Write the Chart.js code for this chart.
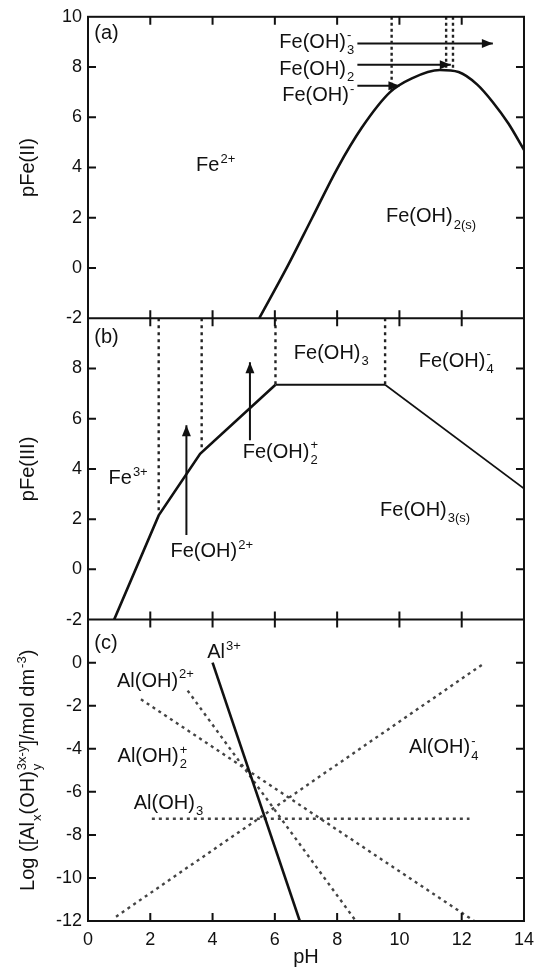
<!DOCTYPE html>
<html><head><meta charset="utf-8">
<script src="https://cdn.jsdelivr.net/npm/chart.js@4.4.1/dist/chart.umd.min.js"></script>
<style>html,body{margin:0;padding:0;background:#fff;}canvas{display:block;}</style>
</head><body>
<canvas id="c" width="542" height="969"></canvas>
<script>
// ---------------- data ----------------
const xTickValues = [0, 2, 4, 6, 8, 10, 12, 14];
const yTicksA = [-2, 0, 2, 4, 6, 8, 10];
const yTickLabelsA = ['-2', '0', '2', '4', '6', '8', '10'];
const yTicksB = [-2, 0, 2, 4, 6, 8, 10];
const yTickLabelsB = ['-2', '0', '2', '4', '6', '8', ''];
const yTicksC = [-12, -10, -8, -6, -4, -2, 0, 2];
const yTickLabelsC = ['-12', '-10', '-8', '-6', '-4', '-2', '0', ''];

// (a) Fe(II)
const pH_FeII = [5.5, 6.4, 7.2, 8.0, 8.8, 9.7, 10.4, 11.3, 11.9, 12.5, 13.0, 13.5, 14.0];
const pFeII   = [-2, 0.05, 2.0, 3.95, 5.6, 7.0, 7.55, 7.88, 7.8, 7.3, 6.6, 5.75, 4.7];
const dividerA_pH = [9.75, 11.5, 11.72];
const dividerA_end = [7.05, 7.9, 7.9];
const arrowA_start = [8.65, 8.65, 8.65];
const arrowA_end = [13.0, 11.65, 10.0];
const arrowA_level = [8.94, 8.09, 7.25];

// (b) Fe(III)
const pH_FeIII_rise = [0.84, 2.27, 3.6, 6.02];
const pFeIII_rise   = [-2, 2.15, 4.6, 7.35];
const pH_FeIII_flat = [6.02, 9.54];
const pFeIII_flat   = [7.35, 7.35];
const pH_FeIII_fall = [9.54, 14];
const pFeIII_fall   = [7.35, 3.22];
const dividerB_pH = [2.27, 3.65, 6.02, 9.54];
const dividerB_end = [2.3, 4.75, 7.35, 7.35];
const arrowB_pH = [3.16, 5.2];
const arrowB_from = [1.37, 5.14];
const arrowB_to = [5.74, 8.25];

// (c) Al(III)
const pH_Al3 = [4.0, 6.8];          const logAl3 = [0, -12];
const pH_AlOH = [3.2, 8.6];         const logAlOH = [-1.3, -12];
const pH_AlOH2 = [1.7, 12.4];       const logAlOH2 = [-1.7, -12];
const pH_AlOH3 = [2.05, 12.25];     const logAlOH3 = [-7.25, -7.25];
const pH_AlOH4 = [0.9, 12.75];      const logAlOH4 = [-11.8, 0];

// ---------------- helpers ----------------
const FONT = '"Liberation Sans", Arial, Helvetica, sans-serif';
const INK = '#111';
const pts = (xs, ys) => xs.map((x, i) => ({x, y: ys[i]}));

function solid(data, axis, w) {
  return {data, yAxisID: axis, borderColor: INK, borderWidth: w, pointRadius: 0, fill: false, tension: 0};
}
function dotted(data, axis, color, dash, w) {
  return {data, yAxisID: axis, borderColor: color, borderWidth: w, borderDash: dash, pointRadius: 0, fill: false, tension: 0};
}

const datasets = [];
datasets.push(Object.assign(solid(pts(pH_FeII, pFeII), 'ya', 2.6), {cubicInterpolationMode: 'monotone'}));
dividerA_pH.forEach((p, i) => datasets.push(dotted(pts([p, p], [10, dividerA_end[i]]), 'ya', '#222', [3, 3], 2.4)));
arrowA_start.forEach((s, i) => datasets.push(Object.assign(solid(pts([s, arrowA_end[i]], [arrowA_level[i], arrowA_level[i]]), 'ya', 2), {arrowHead: true})));

datasets.push(solid(pts(pH_FeIII_rise, pFeIII_rise), 'yb', 2.6));
datasets.push(solid(pts(pH_FeIII_flat, pFeIII_flat), 'yb', 2));
datasets.push(solid(pts(pH_FeIII_fall, pFeIII_fall), 'yb', 1.6));
dividerB_pH.forEach((p, i) => datasets.push(dotted(pts([p, p], [10, dividerB_end[i]]), 'yb', '#222', [3, 4], 2.4)));
arrowB_pH.forEach((p, i) => datasets.push(Object.assign(solid(pts([p, p], [arrowB_from[i], arrowB_to[i]]), 'yb', 2), {arrowHead: true})));

datasets.push(solid(pts(pH_Al3, logAl3), 'yc', 2.6));
datasets.push(dotted(pts(pH_AlOH, logAlOH), 'yc', '#444', [3, 4], 2.4));
datasets.push(dotted(pts(pH_AlOH2, logAlOH2), 'yc', '#444', [3, 4], 2.4));
datasets.push(dotted(pts(pH_AlOH3, logAlOH3), 'yc', '#444', [3, 4], 2.4));
datasets.push(dotted(pts(pH_AlOH4, logAlOH4), 'yc', '#444', [3, 4], 2.4));

// labels (rich text: _{sub} ^{sup})
const annotations = [
  {axis: 'ya', x: 0.2, y: 9.4, text: '(a)', align: 'left'},
  {axis: 'ya', x: 8.55, y: 9.05, text: 'Fe(OH)_{3}^{-}', align: 'right'},
  {axis: 'ya', x: 8.55, y: 7.98, text: 'Fe(OH)_{2}', align: 'right'},
  {axis: 'ya', x: 8.55, y: 6.92, text: 'Fe(OH)^{-}', align: 'right'},
  {axis: 'ya', x: 3.47, y: 4.14, text: 'Fe^{2+}', align: 'left'},
  {axis: 'ya', x: 9.57, y: 2.11, text: 'Fe(OH)_{2(s)}', align: 'left'},
  {axis: 'yb', x: 0.2, y: 9.31, text: '(b)', align: 'left'},
  {axis: 'yb', x: 0.66, y: 3.68, text: 'Fe^{3+}', align: 'left'},
  {axis: 'yb', x: 2.65, y: 0.77, text: 'Fe(OH)^{2+}', align: 'left'},
  {axis: 'yb', x: 4.97, y: 4.74, text: 'Fe(OH)_{2}^{+}', align: 'left'},
  {axis: 'yb', x: 6.61, y: 8.68, text: 'Fe(OH)_{3}', align: 'left'},
  {axis: 'yb', x: 10.62, y: 8.36, text: 'Fe(OH)_{4}^{-}', align: 'left'},
  {axis: 'yb', x: 9.38, y: 2.42, text: 'Fe(OH)_{3(s)}', align: 'left'},
  {axis: 'yc', x: 0.2, y: 0.98, text: '(c)', align: 'left'},
  {axis: 'yc', x: 3.83, y: 0.55, text: 'Al^{3+}', align: 'left'},
  {axis: 'yc', x: 0.93, y: -0.79, text: 'Al(OH)^{2+}', align: 'left'},
  {axis: 'yc', x: 0.95, y: -4.28, text: 'Al(OH)_{2}^{+}', align: 'left'},
  {axis: 'yc', x: 1.47, y: -6.44, text: 'Al(OH)_{3}', align: 'left'},
  {axis: 'yc', x: 10.31, y: -3.87, text: 'Al(OH)_{4}^{-}', align: 'left'},
];
const axisTitles = {ya: 'pFe(II)', yb: 'pFe(III)', yc: 'Log ([Al_{x}(OH)_{y}^{3x-y}]/mol dm^{-3})'};

function parseRich(s) {
  const segs = []; let i = 0, buf = '';
  while (i < s.length) {
    const c = s[i];
    if ((c === '_' || c === '^') && s[i + 1] === '{') {
      const j = s.indexOf('}', i);
      const content = s.slice(i + 2, j);
      if (buf) { segs.push({k: 'n', t: buf}); buf = ''; }
      const last = segs[segs.length - 1];
      const key = c === '_' ? 'sub' : 'sup';
      if (last && last.k === 's' && !last[key]) last[key] = content;
      else segs.push({k: 's', [key]: content});
      i = j + 1;
    } else { buf += c; i++; }
  }
  if (buf) segs.push({k: 'n', t: buf});
  return segs;
}
function drawRich(ctx, str, x, yMid, align, size) {
  const segs = parseRich(str);
  const mainF = size + 'px ' + FONT;
  const smallF = Math.round(size * 0.64) + 'px ' + FONT;
  let w = 0;
  segs.forEach(sg => {
    if (sg.k === 'n') { ctx.font = mainF; sg.w = ctx.measureText(sg.t).width; }
    else { ctx.font = smallF; sg.w = Math.max(sg.sub ? ctx.measureText(sg.sub).width : 0, sg.sup ? ctx.measureText(sg.sup).width : 0) + 1; }
    w += sg.w;
  });
  let cx = align === 'right' ? x - w : (align === 'center' ? x - w / 2 : x);
  const base = yMid + size * 0.36;
  ctx.textAlign = 'left'; ctx.textBaseline = 'alphabetic'; ctx.fillStyle = INK;
  segs.forEach(sg => {
    if (sg.k === 'n') { ctx.font = mainF; ctx.fillText(sg.t, cx, base); }
    else {
      ctx.font = smallF;
      if (sg.sub) ctx.fillText(sg.sub, cx + 1, base + size * 0.32);
      if (sg.sup) ctx.fillText(sg.sup, cx + 1, base - size * 0.42);
    }
    cx += sg.w;
  });
}

const decor = {
  id: 'decor',
  afterDatasetsDraw(chart) {
    const ctx = chart.ctx;
    const xs = chart.scales.x;
    const area = chart.chartArea;
    ctx.save();
    // arrow heads
    chart.data.datasets.forEach((ds, i) => {
      if (!ds.arrowHead) return;
      const pts = chart.getDatasetMeta(i).data;
      const a = pts[pts.length - 2], b = pts[pts.length - 1];
      const ang = Math.atan2(b.y - a.y, b.x - a.x);
      const L = 11, W = 4.5;
      ctx.beginPath();
      ctx.moveTo(b.x, b.y);
      ctx.lineTo(b.x - L * Math.cos(ang) + W * Math.sin(ang), b.y - L * Math.sin(ang) - W * Math.cos(ang));
      ctx.lineTo(b.x - L * Math.cos(ang) - W * Math.sin(ang), b.y - L * Math.sin(ang) + W * Math.cos(ang));
      ctx.closePath();
      ctx.fillStyle = INK; ctx.fill();
    });
    // frame and inward ticks
    ctx.strokeStyle = INK; ctx.lineWidth = 2;
    ctx.strokeRect(area.left, area.top, area.right - area.left, area.bottom - area.top);
    const T = 8;
    ['ya', 'yb', 'yc'].forEach(id => {
      const s = chart.scales[id];
      ctx.beginPath();
      ctx.moveTo(area.left, s.bottom); ctx.lineTo(area.right, s.bottom);
      xs.ticks.forEach(t => {
        if (t.value <= xs.min || t.value >= xs.max) return;
        const px = xs.getPixelForValue(t.value);
        ctx.moveTo(px, s.top); ctx.lineTo(px, s.top + T);
        ctx.moveTo(px, s.bottom); ctx.lineTo(px, s.bottom - T);
      });
      s.ticks.forEach(t => {
        if (t.value <= s.min || t.value >= s.max) return;
        const py = s.getPixelForValue(t.value);
        ctx.moveTo(area.left, py); ctx.lineTo(area.left + T, py);
        ctx.moveTo(area.right, py); ctx.lineTo(area.right - T, py);
      });
      ctx.stroke();
    });
    // labels
    annotations.forEach(a => {
      const s = chart.scales[a.axis];
      drawRich(ctx, a.text, xs.getPixelForValue(a.x), s.getPixelForValue(a.y), a.align, 20);
    });
    // axis titles
    Object.keys(axisTitles).forEach(id => {
      const s = chart.scales[id];
      ctx.save();
      ctx.translate(27, (s.top + s.bottom) / 2);
      ctx.rotate(-Math.PI / 2);
      drawRich(ctx, axisTitles[id], 0, 0, 'center', 20);
      ctx.restore();
    });
    ctx.restore();
  }
};

function yAxis(min, max, values, labels, weight) {
  return {
    type: 'linear', position: 'left', stack: 'panels', stackWeight: 1, weight,
    min, max,
    afterBuildTicks: s => { s.ticks = values.map(v => ({value: v})); },
    afterFit: s => { s.width = 88; },
    ticks: {
      font: {family: FONT, size: 18}, color: INK, padding: 6, autoSkip: false,
      callback: (v) => { const k = values.indexOf(v); return k >= 0 ? labels[k] : ''; }
    },
    grid: {display: false, drawTicks: false},
    border: {display: false}
  };
}

new Chart(document.getElementById('c'), {
  type: 'line',
  data: {datasets},
  options: {
    responsive: false, animation: false, devicePixelRatio: 1,
    layout: {padding: {top: 14, right: 11, left: 0, bottom: 0}},
    plugins: {legend: {display: false}, tooltip: {enabled: false}},
    scales: {
      x: {
        type: 'linear', position: 'bottom', min: 0, max: 14,
        afterBuildTicks: s => { s.ticks = xTickValues.map(v => ({value: v})); },
        afterFit: s => { s.height = 48; },
        ticks: {font: {family: FONT, size: 18}, color: INK, padding: 8, maxRotation: 0, autoSkip: false},
        grid: {display: false, drawTicks: false},
        border: {display: false},
        title: {display: true, text: 'pH', font: {family: FONT, size: 20}, color: INK, padding: {top: 0, bottom: 0}}
      },
      ya: yAxis(-2, 10, yTicksA, yTickLabelsA, 3),
      yb: yAxis(-2, 10, yTicksB, yTickLabelsB, 2),
      yc: yAxis(-12, 2, yTicksC, yTickLabelsC, 1)
    }
  },
  plugins: [decor]
});
</script>
</body></html>
